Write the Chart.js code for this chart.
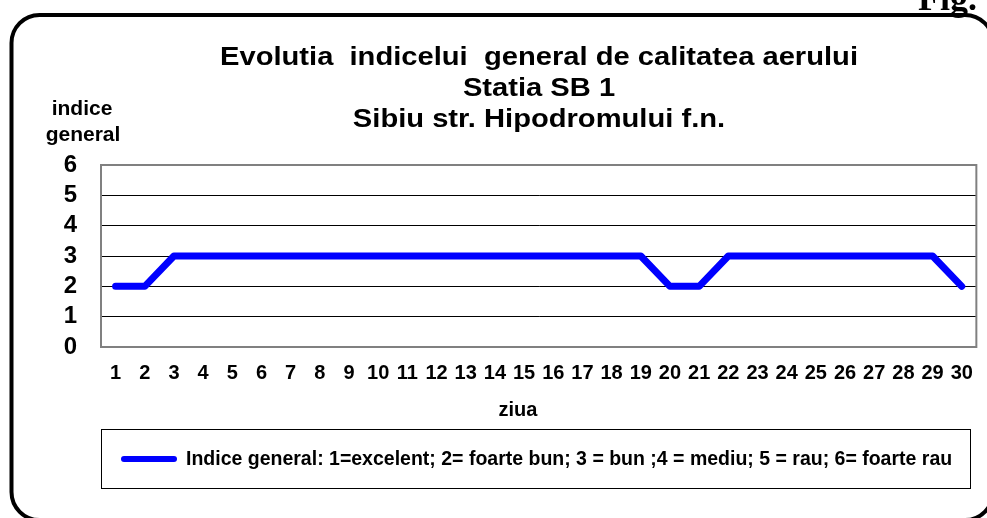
<!DOCTYPE html>
<html>
<head>
<meta charset="utf-8">
<script src="https://cdn.jsdelivr.net/npm/chart.js@4.4.1/dist/chart.umd.min.js"></script>
<style>
  html, body { margin: 0; padding: 0; background: #fff; }
  #wrap { position: relative; width: 987px; height: 518px; }
</style>
</head>
<body>
<div id="wrap"><canvas id="airChart" width="987" height="518"></canvas></div>
<script>
// chart data
const days = ['1','2','3','4','5','6','7','8','9','10','11','12','13','14','15',
              '16','17','18','19','20','21','22','23','24','25','26','27','28','29','30'];
const indexValues = [2,2,3,3,3,3,3,3,3,3,3,3,3,3,3,3,3,3,3,2,2,3,3,3,3,3,3,3,3,2];
const yTickValues = [0,1,2,3,4,5,6];
const titleLines = ['Evolutia  indicelui  general de calitatea aerului', 'Statia SB 1', 'Sibiu str. Hipodromului f.n.'];
const yAxisTitle = ['indice', 'general'];
const xAxisTitle = 'ziua';
const seriesLabel = 'Indice general: 1=excelent; 2= foarte bun; 3 = bun ;4 = mediu; 5 = rau; 6= foarte rau';

const FONT = '"Liberation Sans", Arial, sans-serif';

// frame, titles and legend box drawn around the plot
const decorations = {
    id: 'decorations',
    afterDraw(chart) {
        const c = chart.ctx;
        const area = chart.chartArea;
        c.save();

        // right edge of the plot
        c.strokeStyle = '#808080';
        c.lineWidth = 2;
        c.beginPath();
        c.moveTo(area.right, area.top - 1);
        c.lineTo(area.right, area.bottom + 1);
        c.stroke();

        // outer rounded frame
        c.strokeStyle = '#000';
        c.lineWidth = 4;
        c.beginPath();
        c.roundRect(11.5, 15, 981.5, 505, 28);
        c.stroke();

        // "Fig." cut off at the top
        c.fillStyle = '#000';
        c.font = 'bold 36px "Liberation Serif", "Times New Roman", serif';
        c.textAlign = 'left';
        c.textBaseline = 'alphabetic';
        c.fillText('Fig.', 918, 10);

        // title, slightly stretched sideways like the original
        c.font = 'bold 26px ' + FONT;
        c.textAlign = 'center';
        const stretch = 638 / c.measureText(titleLines[0]).width;
        const titleY = [65, 96, 127];
        titleLines.forEach((t, i) => {
            c.save();
            c.translate(539, titleY[i]);
            c.scale(stretch, 1);
            c.fillText(t, 0, 0);
            c.restore();
        });

        // y axis title
        c.font = 'bold 21px ' + FONT;
        c.fillText(yAxisTitle[0], 82, 115);
        c.fillText(yAxisTitle[1], 83, 141);

        // x axis title
        c.font = 'bold 20px ' + FONT;
        c.fillText(xAxisTitle, 518, 416);

        // legend
        c.strokeStyle = '#000';
        c.lineWidth = 1;
        c.strokeRect(101.5, 429.5, 869, 59);
        const ds = chart.data.datasets[0];
        c.strokeStyle = ds.borderColor;
        c.lineWidth = 6;
        c.lineCap = 'round';
        c.beginPath();
        c.moveTo(124, 459);
        c.lineTo(174, 459);
        c.stroke();
        c.font = 'bold 19.5px ' + FONT;
        c.textAlign = 'left';
        c.fillText(ds.label, 186, 465);

        c.restore();
    }
};

new Chart(document.getElementById('airChart'), {
    type: 'line',
    data: {
        labels: days,
        datasets: [{
            label: seriesLabel,
            data: indexValues,
            borderColor: '#0000FF',
            borderWidth: 7,
            borderCapStyle: 'round',
            borderJoinStyle: 'round',
            pointRadius: 0,
            tension: 0,
            fill: false
        }]
    },
    options: {
        responsive: false,
        animation: false,
        devicePixelRatio: 1,
        layout: { padding: { top: 165, right: 7, left: 0, bottom: 0 } },
        plugins: {
            legend: { display: false },
            title: { display: false },
            tooltip: { enabled: false }
        },
        scales: {
            x: {
                offset: true,
                grid: { display: false, drawTicks: false },
                border: { color: '#808080', width: 2 },
                ticks: {
                    color: '#000',
                    font: { family: FONT, size: 20, weight: 'bold' },
                    padding: 14,
                    maxRotation: 0,
                    autoSkip: false
                },
                afterFit: s => { s.height = 171; }
            },
            y: {
                min: 0,
                max: 6,
                afterBuildTicks: s => { s.ticks = yTickValues.map(v => ({ value: v })); },
                grid: {
                    drawTicks: false,
                    color: ctx => (ctx.tick && ctx.tick.value === 6) ? '#808080' : '#000',
                    lineWidth: ctx => (ctx.tick && ctx.tick.value === 6) ? 2 : 1
                },
                border: { color: '#808080', width: 2 },
                ticks: {
                    color: '#000',
                    font: { family: FONT, size: 24, weight: 'bold' },
                    padding: 24,
                    autoSkip: false
                },
                afterFit: s => { s.width = 101; }
            }
        }
    },
    plugins: [decorations]
});
</script>
</body>
</html>
